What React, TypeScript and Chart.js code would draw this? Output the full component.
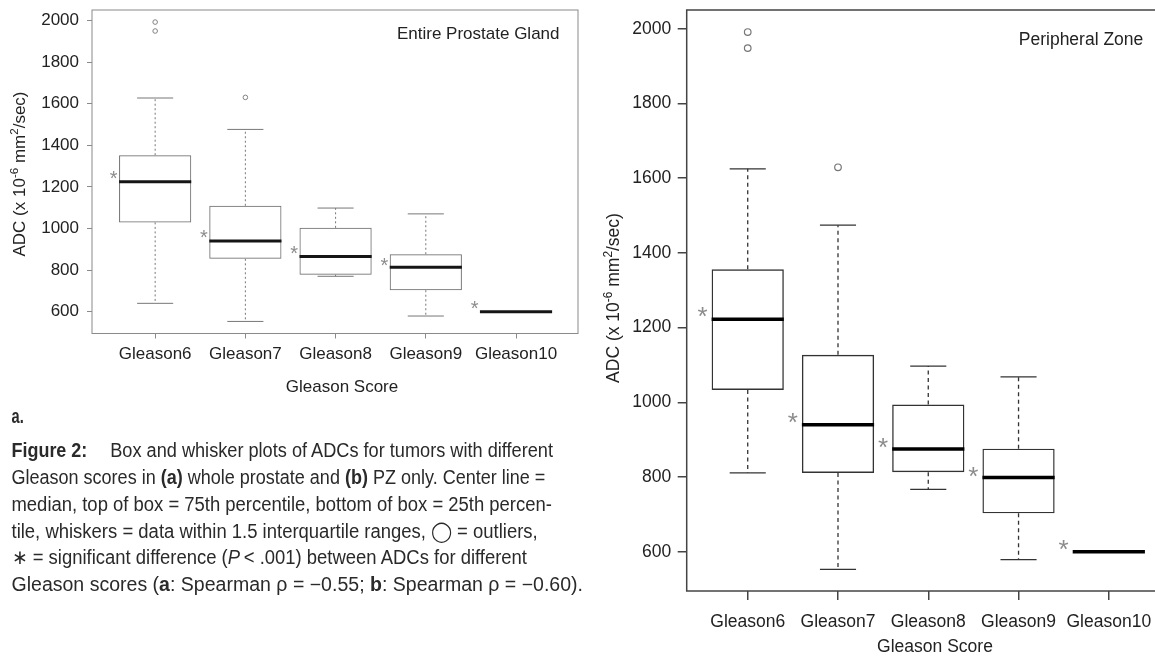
import React, { useEffect, useRef } from "react";
import { Chart, registerables } from "chart.js";

Chart.register(...registerables);

// ---------- data ----------
const categories = ["Gleason6", "Gleason7", "Gleason8", "Gleason9", "Gleason10"];
const yTicks = [600, 800, 1000, 1200, 1400, 1600, 1800, 2000];
const yMin = 495;
const yMax = 2050;

// (a) Entire prostate gland
const aLower = [640, 553, 770, 579, 600];
const aQ1 = [1029, 854, 778, 703, 600];
const aMedian = [1224, 940, 865, 814, 600];
const aQ3 = [1352, 1109, 1003, 876, 600];
const aUpper = [1627, 1476, 1098, 1070, 600];
const aOutlierCat = [1, 1, 2];
const aOutlierVal = [1992, 1949, 1630];
const aStarVal = [1257, 973, 896, 838, 632];

// (b) Peripheral zone
const bLower = [811, 553, 767, 579, 600];
const bQ1 = [1033, 811, 813, 703, 600];
const bMedian = [1222, 940, 875, 799, 600];
const bQ3 = [1356, 1127, 994, 876, 600];
const bUpper = [1625, 1474, 1097, 1068, 600];
const bOutlierCat = [1, 1, 2];
const bOutlierVal = [1991, 1948, 1629];
const bStarVal = [1242, 959, 892, 814, 617];

// ---------- styles ----------
const FONT = "'Liberation Sans', Arial, Helvetica, sans-serif";
const CAP_FONT = "'Liberation Sans', Arial, Helvetica, sans-serif";

type Panel = {
  title: string;
  lower: number[]; q1: number[]; median: number[]; q3: number[]; upper: number[];
  outCat: number[]; outVal: number[]; starVal: number[];
  canvasLeft: number; W: number; H: number;
  area: { left: number; top: number; right: number; bottom: number };
  xMin: number; xMax: number;
  fontSize: number; tickLen: number; yPad: number; xPad: number;
  frameColor: string; frameWidth: number;
  boxColor: string; boxWidth: number;
  whiskerColor: string; whiskerWidth: number; dash: number[];
  medianColor: string; medianWidth: number;
  tickColor: string; textColor: string;
  outColor: string; outR: number; outW: number;
  starColor: string; starSize: number; starOffset: number;
  titleRight: number; titleBase: number;
  yTitleX: number; yTitleY: number;
  xTitleX: number; xTitleBase: number;
};

const panelA: Panel = {
  title: "Entire Prostate Gland",
  lower: aLower, q1: aQ1, median: aMedian, q3: aQ3, upper: aUpper,
  outCat: aOutlierCat, outVal: aOutlierVal, starVal: aStarVal,
  canvasLeft: 0, W: 600, H: 400,
  area: { left: 92, top: 10, right: 578, bottom: 333.5 },
  xMin: 0.3, xMax: 5.687,
  fontSize: 17, tickLen: 5, yPad: 8, xPad: 6,
  frameColor: "#8a8a8a", frameWidth: 1,
  boxColor: "#6a6a6a", boxWidth: 1,
  whiskerColor: "#777777", whiskerWidth: 1, dash: [2, 2.5],
  medianColor: "#151515", medianWidth: 3,
  tickColor: "#8a8a8a", textColor: "#222222",
  outColor: "#808080", outR: 2.3, outW: 1,
  starColor: "#8c8c8c", starSize: 20, starOffset: -0.46,
  titleRight: 559.5, titleBase: 39,
  yTitleX: 19, yTitleY: 174,
  xTitleX: 342, xTitleBase: 391.5,
};

const panelB: Panel = {
  title: "Peripheral Zone",
  lower: bLower, q1: bQ1, median: bMedian, q3: bQ3, upper: bUpper,
  outCat: bOutlierCat, outVal: bOutlierVal, starVal: bStarVal,
  canvasLeft: 560, W: 640, H: 660,
  area: { left: 126.7, top: 10, right: 612, bottom: 591 },
  xMin: 0.324, xMax: 5.7,
  fontSize: 17.5, tickLen: 9, yPad: 6.5, xPad: 11.5,
  frameColor: "#444444", frameWidth: 1.5,
  boxColor: "#333333", boxWidth: 1.4,
  whiskerColor: "#333333", whiskerWidth: 1.3, dash: [4, 3.5],
  medianColor: "#000000", medianWidth: 3.5,
  tickColor: "#444444", textColor: "#222222",
  outColor: "#777777", outR: 3.3, outW: 1.2,
  starColor: "#8c8c8c", starSize: 26, starOffset: -0.5,
  titleRight: 583.3, titleBase: 45,
  yTitleX: 52.3, yTitleY: 298,
  xTitleX: 375, xTitleBase: 652,
};

function drawYTitle(ctx: CanvasRenderingContext2D, cx: number, cy: number, size: number, color: string) {
  const parts: [string, boolean][] = [
    ["ADC (x 10", false],
    ["-6", true],
    [" mm", false],
    ["2", true],
    ["/sec)", false],
  ];
  const mainF = `${size}px ${FONT}`;
  const supF = `${(size * 0.68).toFixed(2)}px ${FONT}`;
  ctx.save();
  ctx.translate(cx, cy);
  ctx.rotate(-Math.PI / 2);
  ctx.fillStyle = color;
  ctx.textAlign = "left";
  ctx.textBaseline = "alphabetic";
  const widths = parts.map(([t, s]) => {
    ctx.font = s ? supF : mainF;
    return ctx.measureText(t).width;
  });
  const total = widths.reduce((a, b) => a + b, 0);
  let xx = -total / 2;
  const base = size * 0.36;
  parts.forEach(([t, s], i) => {
    ctx.font = s ? supF : mainF;
    ctx.fillText(t, xx, s ? base - size * 0.4 : base);
    xx += widths[i];
  });
  ctx.restore();
}

function extrasPlugin(p: Panel) {
  return {
    id: "boxExtras",
    afterDatasetsDraw(chart: any) {
      const { ctx, scales } = chart;
      const x = scales.x;
      const y = scales.y;
      ctx.save();
      categories.forEach((_, i) => {
        const c = i + 1;
        const cx = x.getPixelForValue(c);
        const capL = x.getPixelForValue(c - 0.2);
        const capR = x.getPixelForValue(c + 0.2);
        ctx.strokeStyle = p.whiskerColor;
        ctx.lineWidth = p.whiskerWidth;
        ctx.lineCap = "butt";
        if (p.upper[i] > p.q3[i]) {
          ctx.setLineDash(p.dash);
          ctx.beginPath();
          ctx.moveTo(cx, y.getPixelForValue(p.q3[i]));
          ctx.lineTo(cx, y.getPixelForValue(p.upper[i]));
          ctx.stroke();
          ctx.setLineDash([]);
          ctx.beginPath();
          ctx.moveTo(capL, y.getPixelForValue(p.upper[i]));
          ctx.lineTo(capR, y.getPixelForValue(p.upper[i]));
          ctx.stroke();
        }
        if (p.lower[i] < p.q1[i]) {
          ctx.setLineDash(p.dash);
          ctx.beginPath();
          ctx.moveTo(cx, y.getPixelForValue(p.q1[i]));
          ctx.lineTo(cx, y.getPixelForValue(p.lower[i]));
          ctx.stroke();
          ctx.setLineDash([]);
          ctx.beginPath();
          ctx.moveTo(capL, y.getPixelForValue(p.lower[i]));
          ctx.lineTo(capR, y.getPixelForValue(p.lower[i]));
          ctx.stroke();
        }
        // median
        ctx.setLineDash([]);
        ctx.strokeStyle = p.medianColor;
        ctx.lineWidth = p.medianWidth;
        ctx.beginPath();
        ctx.moveTo(x.getPixelForValue(c - 0.4), y.getPixelForValue(p.median[i]));
        ctx.lineTo(x.getPixelForValue(c + 0.4), y.getPixelForValue(p.median[i]));
        ctx.stroke();
        // significance asterisk
        ctx.font = `${p.starSize}px ${FONT}`;
        ctx.fillStyle = p.starColor;
        ctx.textAlign = "center";
        ctx.textBaseline = "alphabetic";
        const m = ctx.measureText("*");
        const off = (m.actualBoundingBoxAscent - m.actualBoundingBoxDescent) / 2;
        ctx.fillText("*", x.getPixelForValue(c + p.starOffset), y.getPixelForValue(p.starVal[i]) + off);
      });
      ctx.restore();
    },
    afterDraw(chart: any) {
      const { ctx, chartArea: a } = chart;
      ctx.save();
      ctx.strokeStyle = p.frameColor;
      ctx.lineWidth = p.frameWidth;
      ctx.setLineDash([]);
      ctx.strokeRect(a.left, a.top, a.right - a.left, a.bottom - a.top);
      // panel title
      ctx.fillStyle = p.textColor;
      ctx.font = `${p.fontSize}px ${FONT}`;
      ctx.textAlign = "right";
      ctx.textBaseline = "alphabetic";
      ctx.fillText(p.title, p.titleRight, p.titleBase);
      // x title
      ctx.textAlign = "center";
      ctx.fillText("Gleason Score", p.xTitleX, p.xTitleBase);
      ctx.restore();
      drawYTitle(ctx, p.yTitleX, p.yTitleY, p.fontSize, p.textColor);
    },
  };
}

function makeChart(canvas: HTMLCanvasElement, p: Panel) {
  const font = { family: FONT, size: p.fontSize };
  const zeroPad = (s: any) => {
    s.paddingLeft = 0;
    s.paddingRight = 0;
    s.paddingTop = 0;
    s.paddingBottom = 0;
  };
  return new Chart(canvas, {
    type: "bar",
    data: {
      datasets: [
        {
          type: "bar",
          data: categories.map((_, i) => ({ x: i + 1, y: [p.q1[i], p.q3[i]] })) as any,
          backgroundColor: "rgba(255,255,255,0)",
          borderColor: p.boxColor,
          borderWidth: p.boxWidth,
          borderSkipped: false,
          categoryPercentage: 0.8,
          barPercentage: 1,
        } as any,
        {
          type: "scatter",
          data: p.outCat.map((c, i) => ({ x: c, y: p.outVal[i] })),
          pointStyle: "circle",
          pointRadius: p.outR,
          pointBorderWidth: p.outW,
          pointBorderColor: p.outColor,
          pointBackgroundColor: "rgba(255,255,255,0)",
          showLine: false,
        } as any,
      ],
    },
    options: {
      responsive: false,
      animation: false,
      devicePixelRatio: 1,
      events: [],
      layout: { padding: { left: 0, top: p.area.top, right: p.W - p.area.right, bottom: 0 } },
      plugins: {
        legend: { display: false },
        tooltip: { enabled: false },
        title: { display: false },
      },
      scales: {
        x: {
          type: "linear",
          min: p.xMin,
          max: p.xMax,
          offset: false,
          grid: {
            display: true,
            offset: false,
            drawOnChartArea: false,
            drawTicks: true,
            tickLength: p.tickLen,
            color: p.tickColor,
            lineWidth: p.frameWidth,
          },
          border: { display: false },
          ticks: {
            autoSkip: false,
            maxRotation: 0,
            minRotation: 0,
            padding: p.xPad,
            font,
            color: p.textColor,
            callback: (v: any) => categories[Math.round(Number(v)) - 1] ?? "",
          },
          afterBuildTicks: (s: any) => {
            s.ticks = categories.map((_, i) => ({ value: i + 1 }));
          },
          afterFit: (s: any) => {
            s.height = p.H - p.area.bottom;
            zeroPad(s);
          },
        },
        y: {
          type: "linear",
          min: yMin,
          max: yMax,
          beginAtZero: false,
          grid: {
            display: true,
            drawOnChartArea: false,
            drawTicks: true,
            tickLength: p.tickLen,
            color: p.tickColor,
            lineWidth: p.frameWidth,
          },
          border: { display: false },
          ticks: {
            autoSkip: false,
            padding: p.yPad,
            font,
            color: p.textColor,
            callback: (v: any) => String(v),
          },
          afterBuildTicks: (s: any) => {
            s.ticks = yTicks.map((v) => ({ value: v }));
          },
          afterFit: (s: any) => {
            s.width = p.area.left;
            zeroPad(s);
          },
        },
      } as any,
    },
    plugins: [extrasPlugin(p)],
  });
}

type Seg = { t: string; b?: boolean; i?: boolean };
const captionLines: { x: number; y: number; len: number; segs: Seg[] }[] = [
  { x: 11.5, y: 457, len: 75.8, segs: [{ t: "Figure 2:", b: true }] },
  { x: 110.2, y: 457, len: 442.8, segs: [{ t: "Box and whisker plots of ADCs for tumors with different" }] },
  {
    x: 11.5, y: 484, len: 533.8,
    segs: [
      { t: "Gleason scores in " }, { t: "(a)", b: true }, { t: " whole prostate and " },
      { t: "(b)", b: true }, { t: " PZ only. Center line =" },
    ],
  },
  { x: 11.5, y: 511, len: 540.4, segs: [{ t: "median, top of box = 75th percentile, bottom of box = 25th percen-" }] },
  { x: 11.5, y: 537.5, len: 526.2, segs: [{ t: "tile, whiskers = data within 1.5 interquartile ranges, \u25EF = outliers," }] },
  {
    x: 11.5, y: 564, len: 515.5,
    segs: [
      { t: "\u2217 = significant difference (" }, { t: "P", i: true },
      { t: "\u2009< .001) between ADCs for different" },
    ],
  },
  {
    x: 11.5, y: 590.5, len: 571.5,
    segs: [
      { t: "Gleason scores (" }, { t: "a", b: true }, { t: ": Spearman \u03C1 = \u22120.55; " },
      { t: "b", b: true }, { t: ": Spearman \u03C1 = \u22120.60)." },
    ],
  },
];

export default function App() {
  const aRef = useRef<HTMLCanvasElement>(null);
  const bRef = useRef<HTMLCanvasElement>(null);

  useEffect(() => {
    const ca = makeChart(aRef.current as HTMLCanvasElement, panelA);
    const cb = makeChart(bRef.current as HTMLCanvasElement, panelB);
    return () => {
      ca.destroy();
      cb.destroy();
    };
  }, []);

  return (
    <div
      style={{
        position: "absolute",
        left: 0,
        top: 0,
        width: 1155,
        height: 660,
        overflow: "hidden",
        background: "#ffffff",
      }}
    >
      <canvas
        ref={aRef}
        width={panelA.W}
        height={panelA.H}
        style={{ position: "absolute", left: panelA.canvasLeft, top: 0, width: panelA.W, height: panelA.H }}
      />
      <canvas
        ref={bRef}
        width={panelB.W}
        height={panelB.H}
        style={{ position: "absolute", left: panelB.canvasLeft, top: 0, width: panelB.W, height: panelB.H }}
      />
      <svg
        width={600}
        height={660}
        style={{ position: "absolute", left: 0, top: 0, pointerEvents: "none" }}
      >
        <text
          x={11.5}
          y={423}
          fontFamily={CAP_FONT}
          fontWeight="bold"
          fontSize={21}
          fill="#2a2a2a"
          textLength={12.2}
          lengthAdjust="spacingAndGlyphs"
        >
          a.
        </text>
        {captionLines.map((ln, k) => (
          <text
            key={k}
            x={ln.x}
            y={ln.y}
            fontFamily={CAP_FONT}
            fontSize={19.5}
            fill="#2a2a2a"
            textLength={ln.len}
            lengthAdjust="spacingAndGlyphs"
          >
            {ln.segs.map((s, j) => (
              <tspan key={j} fontWeight={s.b ? "bold" : "normal"} fontStyle={s.i ? "italic" : "normal"}>
                {s.t}
              </tspan>
            ))}
          </text>
        ))}
      </svg>
    </div>
  );
}
